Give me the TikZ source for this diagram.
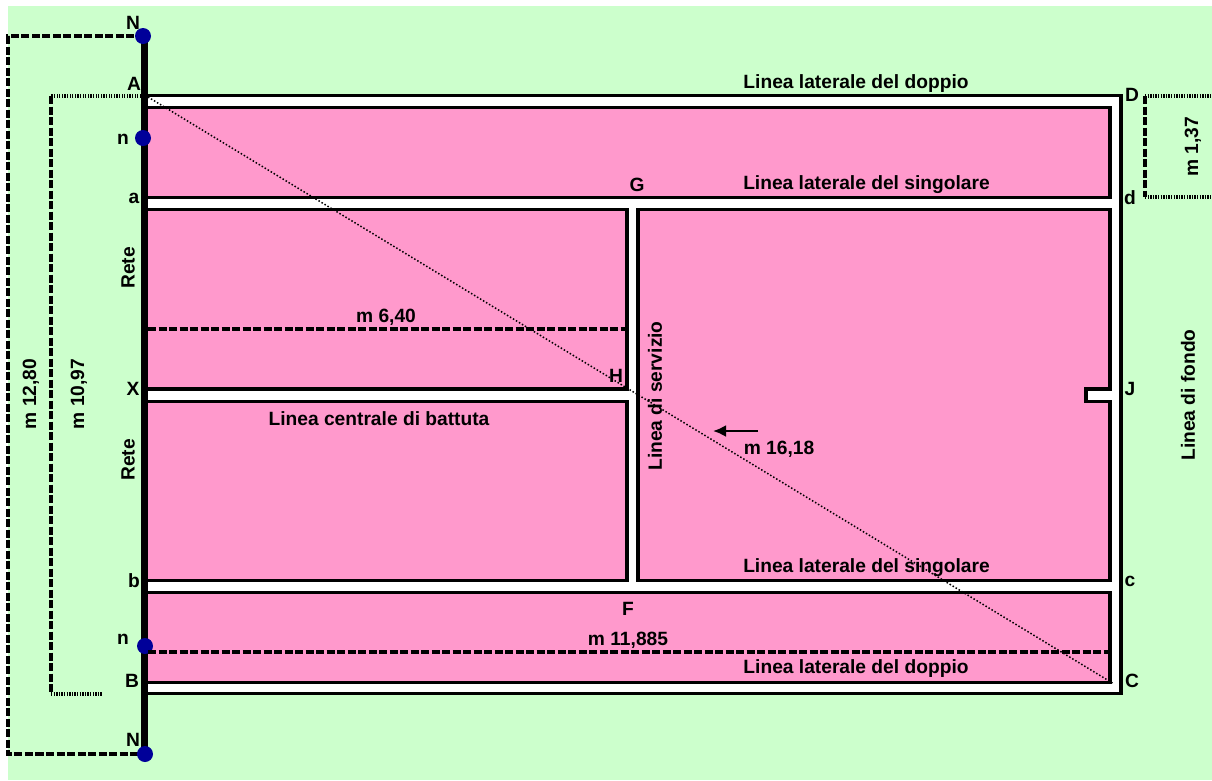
\documentclass[tikz,border=0pt]{standalone}
\usepackage{fontspec}
\setmainfont{Liberation Sans}
\usetikzlibrary{arrows.meta}
\definecolor{courtgreen}{HTML}{CCFFCC}
\definecolor{courtpink}{HTML}{FF99CC}
\definecolor{dotblue}{HTML}{000099}
\begin{document}
\begin{tikzpicture}[x=1pt, y=-1pt,
  main node/.style={circle,fill=dotblue,minimum size=16pt,inner sep=0pt},
  label node/.style={font=\fontsize{19.2}{22}\bfseries\selectfont,inner sep=0pt},
  pink box/.style={draw,line width=3.4pt,fill=courtpink},
  dash line/.style={line width=3.2pt,dash pattern=on 8pt off 2.5pt},
  dot line/.style={line width=3.2pt,dash pattern=on 1.3pt off 1.3pt}]
\useasboundingbox (0,0) rectangle (1212,780);
\fill [courtgreen] (8,6) rectangle (1212,780);
% court
\draw [line width=3.4pt,fill=white] (146,95.5) rectangle (1121,693.5);
\draw [pink box] (146,107.5) rectangle (1110,197.5);
\draw [pink box] (146,209.5) rectangle (627,389);
\draw [pink box] (146,401.5) rectangle (627,580.5);
\draw [pink box] (638,209.5) -- (1110,209.5) -- (1110,389) -- (1086,389) -- (1086,401.5) -- (1110,401.5) -- (1110,580.5) -- (638,580.5) -- cycle;
\draw [pink box] (146,592.5) rectangle (1110,682.5);
% points
\coordinate (A) at (148,97);
\coordinate (C) at (1114,684);
\coordinate (NW) at (8,36);
\coordinate (NSW) at (8,754);
\coordinate (AW) at (51,96);
\coordinate (BW) at (51,694);
\coordinate (BE) at (102,694);
\coordinate (AE) at (141,96);
\coordinate (DW) at (1145,96);
\coordinate (DE) at (1212,96);
\coordinate (dW) at (1145,197);
\coordinate (dE) at (1212,197);
\coordinate (m1) at (148,329);
\coordinate (m2) at (627,329);
\coordinate (m3) at (148,652);
\coordinate (m4) at (1110,652);
\coordinate (ar1) at (758,431);
\coordinate (ar2) at (713,431);
\coordinate (netT) at (144.5,36);
\coordinate (netB) at (144.5,754);
% net and dimensions
\draw [line width=6.7pt] (netT) -- (netB);
\draw [dash line] (netT) -- (NW) -- (NSW) -- (netB);
\node [main node](N1) at (143,36) {};
\node [main node](n1) at (143,138) {};
\node [main node](n2) at (145,646) {};
\node [main node](N2) at (145,754) {};
\draw [dash line] (AW) -- (BW);
\draw [dot line] (AE) -- (AW);
\draw [dot line] (BW) -- (BE);
\draw [dash line] (DW) -- (dW);
\draw [dot line] (DW) -- (DE);
\draw [dot line] (dW) -- (dE);
\draw [dash line] (m1) -- (m2);
\draw [dash line] (m3) -- (m4);
\draw [line width=1.5pt,dash pattern=on 1.5pt off 2pt] (A) -- (C);
\draw [-{Latex[length=13pt,width=12pt]},line width=2.4pt] (ar1) -- (ar2);
% labels
\begin{scope}[every node/.style={label node}]
\node (lN1) at (133,23) {N};
\node (lA) at (134,84) {A};
\node (ln1) at (123,139) {n};
\node (la) at (134,198) {a};
\node (lX) at (133,389) {X};
\node (lb) at (134,581) {b};
\node (ln2) at (123,639) {n};
\node (lB) at (132,681) {B};
\node (lN2) at (133,740) {N};
\node (lG) at (637,185) {G};
\node (lH) at (616,376) {H};
\node (lF) at (628,609) {F};
\node (lD) at (1132,95) {D};
\node (ld) at (1130,198) {d};
\node (lJ) at (1130,389) {J};
\node (lc) at (1130,581) {c};
\node (lC) at (1132,681) {C};
\node (t1) at (856,84) {Linea laterale del doppio};
\node (t2) at (866.5,185) {Linea laterale del singolare};
\node (t3) at (866.5,568) {Linea laterale del singolare};
\node (t4) at (856,669) {Linea laterale del doppio};
\node (t5) at (379,419) {Linea centrale di battuta};
\node (t6) at (386,317) {m 6,40};
\node (t7) at (779,449) {m 16,18};
\node (t8) at (628,640) {m 11,885};
\node [rotate=90] (r1) at (128,268) {Rete};
\node [rotate=90] (r2) at (128,460) {Rete};
\node [rotate=90] (r3) at (655,396) {Linea di servizio};
\node [rotate=90] (r4) at (1188,395) {Linea di fondo};
\node [rotate=90] (r5) at (1193,147) {m 1,37};
\node [rotate=90] (r6) at (31,394) {m 12,80};
\node [rotate=90] (r7) at (79,394) {m 10,97};
\end{scope}
\end{tikzpicture}
\end{document}
